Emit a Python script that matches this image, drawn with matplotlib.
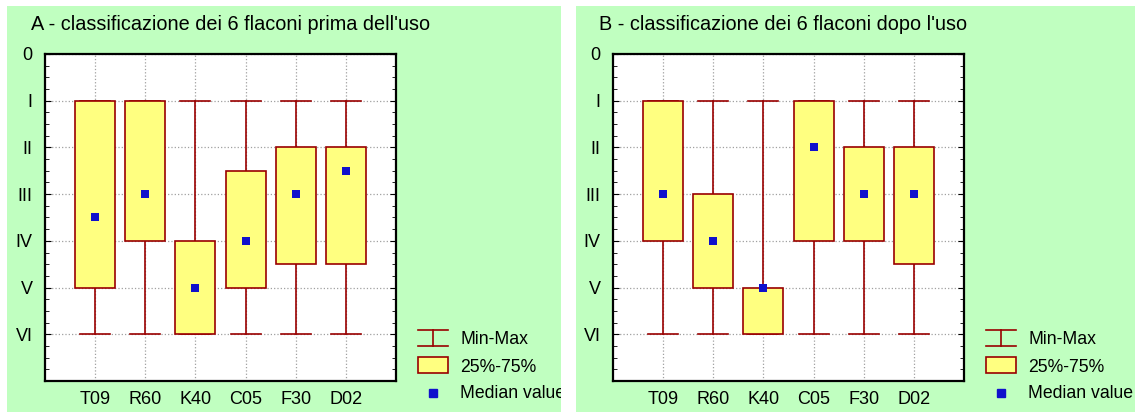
import matplotlib.pyplot as plt
import numpy as np
from matplotlib.patches import Rectangle
from matplotlib.lines import Line2D

plt.rcParams['font.family'] = ['Liberation Sans', 'DejaVu Sans']

categories = ['T09', 'R60', 'K40', 'C05', 'F30', 'D02']
yLabels    = ['0', 'I', 'II', 'III', 'IV', 'V', 'VI']

# panel A - before use
minA    = [1, 1, 1, 1, 1, 1]
maxA    = [6, 6, 6, 6, 6, 6]
q25A    = [1, 1, 4, 2.5, 2, 2]
q75A    = [5, 4, 6, 5, 4.5, 4.5]
medA    = [3.5, 3, 5, 4, 3, 2.5]

# panel B - after use
minB    = [1, 1, 1, 1, 1, 1]
maxB    = [6, 6, 6, 6, 6, 6]
q25B    = [1, 3, 5, 1, 2, 2]
q75B    = [4, 5, 6, 4, 4, 4.5]
medB    = [3, 4, 5, 2, 3, 3]

titles  = ["A - classificazione dei 6 flaconi prima dell'uso",
           "B - classificazione dei 6 flaconi dopo l'uso"]

green   = '#C0FFC0'
yellow  = '#FFFF80'
dred    = '#990000'
blue    = '#1010CC'

W, H    = 1135, 412
fig     = plt.figure(figsize=(W/100, H/100), dpi=100)
fig.patch.set_facecolor('white')

def px(x, y):
    return x/W, 1 - y/H

def drawPanel(x0, x1, axLeft, data, title):
    # green background
    bg = Rectangle(px(x0, H), (x1-x0)/W, (H-6)/H, transform=fig.transFigure,
                   facecolor=green, edgecolor='none', zorder=-10)
    fig.add_artist(bg)
    fig.text(*px(axLeft - 14, 25), title, fontsize=14.3, va='center', ha='left')

    ax = fig.add_axes([axLeft/W, 1-381/H, 351/W, 327/H])
    ax.set_facecolor('white')
    lo, hi, q25, q75, med = data
    xs = np.arange(len(categories))
    for i in xs:
        ax.plot([i, i], [lo[i], hi[i]], color=dred, lw=1.2, zorder=2)
        ax.plot([i-0.3, i+0.3], [lo[i], lo[i]], color=dred, lw=1.2, zorder=2)
        ax.plot([i-0.3, i+0.3], [hi[i], hi[i]], color=dred, lw=1.2, zorder=2)
        ax.add_patch(Rectangle((i-0.4, q25[i]), 0.8, q75[i]-q25[i], facecolor=yellow,
                               edgecolor=dred, lw=1.2, zorder=3))
    ax.scatter(xs, med, marker='s', s=30, color=blue, zorder=4, linewidths=0)

    ax.set_xlim(-1, 6)
    ax.set_ylim(7, 0)
    ax.set_xticks(xs)
    ax.set_xticklabels(categories, fontsize=13)
    ax.set_yticks(range(7))
    ax.set_yticklabels(yLabels, fontsize=13)
    ax.set_yticks(np.arange(0, 7.01, 0.25), minor=True)
    ax.tick_params(axis='x', length=0, pad=7)
    ax.tick_params(axis='y', which='major', direction='in', length=4, right=True, pad=9)
    ax.tick_params(axis='y', which='minor', direction='in', length=3, right=True)
    ax.grid(True, which='major', linestyle=':', color='#A0A0A0', lw=0.9)
    ax.set_axisbelow(True)
    for s in ax.spines.values():
        s.set_linewidth(1.6)

    # legend
    lx = axLeft + 373
    fig.add_artist(Line2D([px(lx, 0)[0], px(lx+30, 0)[0]], [px(0, 330)[1]]*2, color=dred, lw=1.2))
    fig.add_artist(Line2D([px(lx, 0)[0], px(lx+30, 0)[0]], [px(0, 346)[1]]*2, color=dred, lw=1.2))
    fig.add_artist(Line2D([px(lx+15, 0)[0]]*2, [px(0, 330)[1], px(0, 346)[1]], color=dred, lw=1.2))
    fig.add_artist(Rectangle(px(lx, 373), 30/W, 16/H, transform=fig.transFigure,
                             facecolor=yellow, edgecolor=dred, lw=1.2))
    fig.add_artist(Line2D([px(lx+15, 0)[0]], [px(0, 393)[1]], marker='s', markersize=5.5,
                          color=blue, lw=0))
    tx = lx + 42
    fig.text(*px(tx, 340), 'Min-Max', fontsize=12.7, va='center')
    fig.text(*px(tx, 367), '25%-75%', fontsize=12.7, va='center')
    t = fig.text(*px(tx, 394), 'Median value', fontsize=12.7, va='center')
    t.set_clip_path(Rectangle(px(x0, H), (x1-x0)/W, (H-6)/H, transform=fig.transFigure))
    return ax

axA = drawPanel(7, 561, 45, (minA, maxA, q25A, q75A, medA), titles[0])
axB = drawPanel(576, 1135, 613, (minB, maxB, q25B, q75B, medB), titles[1])

fig.savefig('out.png', dpi=100, facecolor='white')
